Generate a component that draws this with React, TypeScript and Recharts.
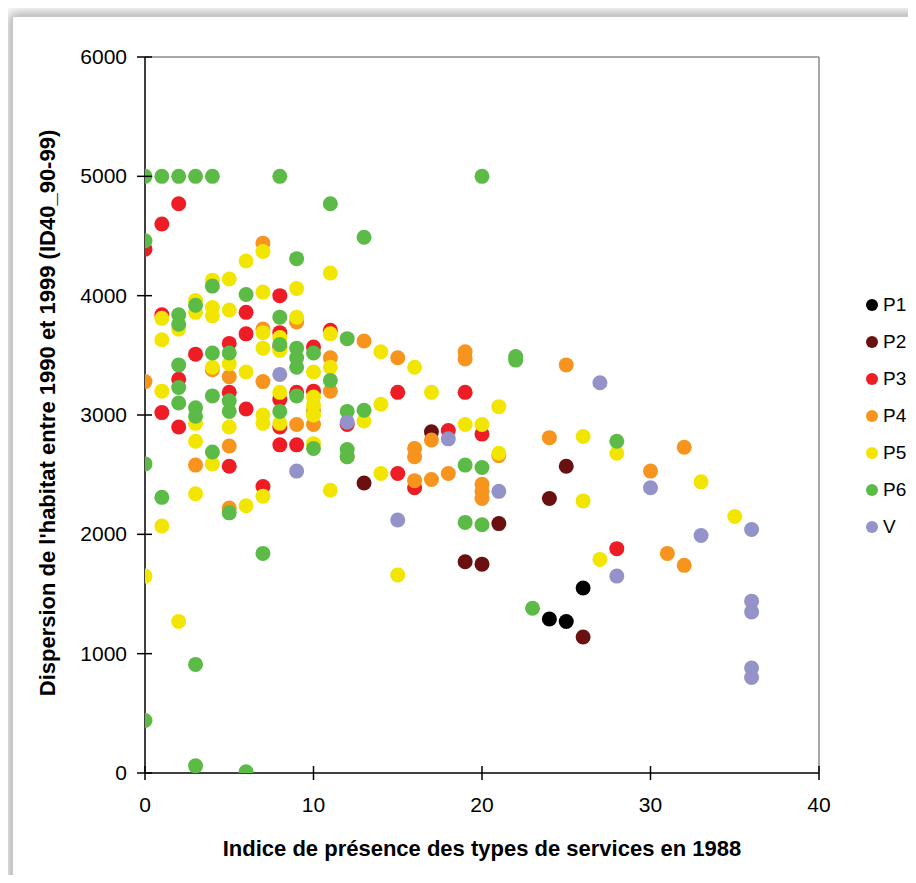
import React from "react";
import { ScatterChart, Scatter, XAxis, YAxis, ReferenceLine } from "recharts";

const SERIES_NAMES = ["P1", "P2", "P3", "P4", "P5", "P6", "V"];
const SERIES_COLORS = ["#000000", "#6b1010", "#ee1c25", "#f7941d", "#f2e600", "#5bbb46", "#9393c9"];
const X_TICKS = [0, 10, 20, 30, 40];
const Y_TICKS = [0, 1000, 2000, 3000, 4000, 5000, 6000];

const P1_POINTS = [[24, 1290], [25, 1270], [26, 1550]];
const P2_POINTS = [[13, 2430], [17, 2860], [19, 1770], [20, 1750], [21, 2090], [24, 2300], [25, 2570], [26, 1140]];
const P3_POINTS = [
  [0, 4390], [1, 4600], [2, 4770], [1, 3840], [1, 3020], [2, 3300], [2, 2900], [3, 3510], [5, 3600], [5, 3190],
  [5, 2570], [6, 3860], [6, 3680], [6, 3050], [7, 2400], [8, 4000], [8, 3690], [8, 3570], [8, 3130], [8, 2900],
  [8, 2750], [9, 3190], [9, 2750], [10, 3570], [10, 3200], [11, 3710], [12, 2920], [15, 3190], [15, 2510],
  [16, 2390], [18, 2870], [19, 3190], [20, 2840], [28, 1880],
];
const P4_POINTS = [
  [0, 3280], [3, 2580], [4, 3380], [5, 3320], [5, 2740], [5, 2220], [7, 4440], [7, 3720], [7, 3280], [9, 3780],
  [9, 2920], [10, 3040], [10, 2920], [11, 3480], [11, 3200], [12, 2650], [13, 3620], [15, 3480], [16, 2720],
  [16, 2650], [16, 2450], [17, 2790], [17, 2460], [18, 2510], [19, 3530], [19, 3470], [20, 2420], [20, 2360],
  [20, 2300], [21, 2660], [24, 2810], [25, 3420], [30, 2530], [31, 1840], [32, 2730], [32, 1740],
];
const P5_POINTS = [
  [0, 1650], [1, 3810], [1, 3630], [1, 3200], [1, 2070], [2, 3720], [2, 1270], [3, 3960], [3, 3860], [3, 2930],
  [3, 2780], [3, 2340], [4, 4130], [4, 3900], [4, 3830], [4, 3400], [4, 2590], [5, 4140], [5, 3880], [5, 3430],
  [5, 2900], [6, 4290], [6, 3360], [6, 2240], [7, 4370], [7, 4030], [7, 3690], [7, 3560], [7, 3000], [7, 2930],
  [7, 2320], [8, 3650], [8, 3540], [8, 3190], [8, 2930], [9, 4060], [9, 3820], [10, 3360], [10, 3150], [10, 3080],
  [10, 3000], [10, 2760], [11, 4190], [11, 3680], [11, 3400], [11, 2370], [13, 2950], [14, 3530], [14, 3090],
  [14, 2510], [15, 1660], [16, 3400], [17, 3190], [19, 2920], [20, 2920], [21, 3070], [21, 2680], [26, 2820],
  [26, 2280], [27, 1790], [28, 2680], [33, 2440], [35, 2150],
];
const P6_POINTS = [
  [0, 5000], [1, 5000], [2, 5000], [3, 5000], [4, 5000], [8, 5000], [20, 5000], [0, 4460], [0, 2590], [0, 440],
  [1, 2310], [2, 3840], [2, 3760], [2, 3420], [2, 3230], [2, 3100], [3, 3920], [3, 3060], [3, 2990], [3, 910],
  [3, 60], [4, 4080], [4, 3520], [4, 3160], [4, 2690], [5, 3520], [5, 3120], [5, 3030], [5, 2180], [6, 4010],
  [6, 10], [7, 1840], [8, 3820], [8, 3590], [8, 3030], [9, 4310], [9, 3560], [9, 3480], [9, 3400], [9, 3160],
  [10, 3520], [10, 2720], [11, 4770], [11, 3290], [12, 3640], [12, 3030], [12, 2710], [12, 2650], [13, 4490],
  [13, 3040], [19, 2580], [19, 2100], [20, 2560], [20, 2080], [22, 3490], [22, 3460], [23, 1380], [28, 2780],
];
const V_POINTS = [
  [8, 3340], [9, 2530], [12, 2940], [15, 2120], [18, 2800], [21, 2360], [27, 3270], [28, 1650], [30, 2390],
  [33, 1990], [36, 2040], [36, 1440], [36, 1350], [36, 880], [36, 800],
];

const ALL_POINTS = [P1_POINTS, P2_POINTS, P3_POINTS, P4_POINTS, P5_POINTS, P6_POINTS, V_POINTS];

const X_TITLE = "Indice de présence des types de services en 1988";
const Y_TITLE = "Dispersion de l'habitat entre 1990 et 1999 (ID40_90-99)";

const FONT = "'Liberation Sans', Arial, sans-serif";
const PLOT_LEFT = 145;
const PLOT_BOTTOM = 773;

const XTick = (props: any) => {
  const { x, payload } = props;
  return (
    <g>
      <line x1={x} x2={x} y1={PLOT_BOTTOM - 7} y2={PLOT_BOTTOM + 7} stroke="#000" strokeWidth={1.5} />
      <text x={x} y={812} textAnchor="middle" fontSize={21} fontFamily={FONT} fill="#000">
        {payload.value}
      </text>
    </g>
  );
};

const YTick = (props: any) => {
  const { y, payload } = props;
  return (
    <g>
      <line x1={PLOT_LEFT - 8} x2={PLOT_LEFT + 7} y1={y} y2={y} stroke="#000" strokeWidth={1.5} />
      <text x={127} y={y + 7} textAnchor="end" fontSize={21} fontFamily={FONT} fill="#000">
        {payload.value}
      </text>
    </g>
  );
};

const makeShape = (color: string) => (props: any) =>
  <circle cx={props.cx} cy={props.cy} r={7.5} fill={color} />;

export default function App() {
  return (
    <div style={{ position: "relative", margin: -8, width: 916, height: 883, overflow: "hidden", background: "#fff" }}>
      <div
        style={{
          position: "absolute",
          left: 12,
          top: 16,
          width: 940,
          height: 900,
          border: "1px solid #c8c8c8",
          boxShadow: "-3px -3px 12px rgba(0,0,0,0.35)",
          background: "#fff",
        }}
      />
      <div style={{ position: "absolute", left: 0, top: 0 }}>
        <ScatterChart width={916} height={883} margin={{ top: 57, right: 97, bottom: 60, left: 65 }}>
          <XAxis
            type="number"
            dataKey="x"
            domain={[0, 40]}
            ticks={X_TICKS}
            height={50}
            axisLine={{ stroke: "#000", strokeWidth: 1.5 }}
            tickLine={false}
            tick={<XTick />}
            allowDataOverflow
          />
          <YAxis
            type="number"
            dataKey="y"
            domain={[0, 6000]}
            ticks={Y_TICKS}
            width={80}
            axisLine={{ stroke: "#000", strokeWidth: 1.5 }}
            tickLine={false}
            tick={<YTick />}
            allowDataOverflow
          />
          <ReferenceLine y={6000} stroke="#8a8a8a" strokeWidth={1.5} />
          <ReferenceLine x={40} stroke="#8a8a8a" strokeWidth={1.5} />
          {SERIES_NAMES.map((n, i) => (
            <Scatter
              key={n}
              name={n}
              data={ALL_POINTS[i].map(([x, y]) => ({ x, y }))}
              fill={SERIES_COLORS[i]}
              shape={makeShape(SERIES_COLORS[i])}
              isAnimationActive={false}
            />
          ))}
        </ScatterChart>
      </div>
      <div style={{ position: "absolute", left: 866, top: 286, fontFamily: FONT, fontSize: 19, color: "#000" }}>
        {SERIES_NAMES.map((n, i) => (
          <div key={n} style={{ display: "flex", alignItems: "center", height: 37 }}>
            <span
              style={{
                display: "inline-block",
                width: 12,
                height: 12,
                borderRadius: 6,
                background: SERIES_COLORS[i],
                marginRight: 5,
              }}
            />
            <span>{n}</span>
          </div>
        ))}
      </div>
      <div
        style={{
          position: "absolute",
          left: 145,
          width: 674,
          top: 836,
          textAlign: "center",
          fontFamily: FONT,
          fontWeight: "bold",
          fontSize: 22,
          color: "#000",
          whiteSpace: "nowrap",
        }}
      >
        {X_TITLE}
      </div>
      <div
        style={{
          position: "absolute",
          left: 48,
          top: 413,
          transform: "translate(-50%, -50%) rotate(-90deg)",
          fontFamily: FONT,
          fontWeight: "bold",
          fontSize: 22,
          color: "#000",
          whiteSpace: "nowrap",
        }}
      >
        {Y_TITLE}
      </div>
    </div>
  );
}
